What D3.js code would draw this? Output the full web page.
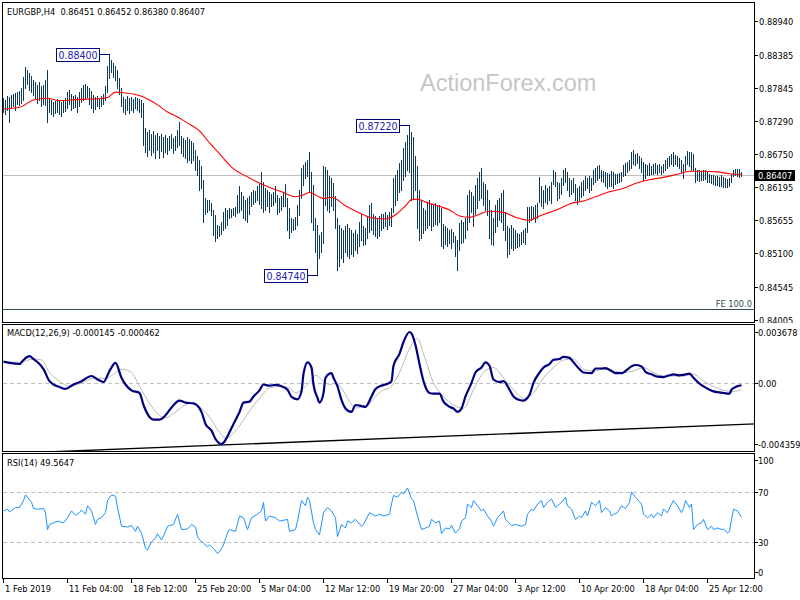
<!DOCTYPE html>
<html><head><meta charset="utf-8">
<script src="https://cdn.jsdelivr.net/npm/d3@7"></script>
<style>
body{margin:0;background:#fff}
svg{display:block}
text{font-family:"DejaVu Sans Condensed","DejaVu Sans",sans-serif;font-size:9.2px;white-space:pre}
</style>
</head><body>
<svg id="c" width="800" height="600"></svg>
<script>
// ---------------- DATA ----------------
const mainTitle = "EURGBP,H4  0.86451 0.86452 0.86380 0.86407";
const macdTitle = "MACD(12,26,9) -0.000145 -0.000462";
const rsiTitle = "RSI(14) 49.5647";
const watermark = "ActionForex.com";

const highs = [
.8767,.8764,.8771,.8769,.8772,.8774,.8776,.8777,.8779,.8784,
.8802,.8819,.8814,.8809,.8804,.8797,.8794,.8789,.8794,.8787,
.8789,.8797,.8814,.8767,.8764,.8761,.8762,.8766,.8764,.8761,
.8764,.8767,.8777,.8781,.8774,.8771,.8772,.8769,.8777,.8784,
.8789,.8790,.8787,.8784,.8779,.8772,.8769,.8771,.8767,.8771,
.8774,.8787,.8820,.8840,.8830,.8825,.8820,.8814,.8800,.8784,
.8769,.8766,.8771,.8767,.8769,.8766,.8769,.8767,.8766,.8764,
.8759,.8718,.8711,.8714,.8708,.8713,.8706,.8709,.8704,.8708,
.8703,.8706,.8701,.8704,.8708,.8701,.8704,.8714,.8727,.8704,
.8701,.8698,.8703,.8699,.8696,.8693,.8681,.8671,.8665,.8655,
.8632,.8602,.8599,.8599,.8594,.8582,.8574,.8557,.8555,.8562,
.8579,.8585,.8582,.8585,.8584,.8585,.8587,.8607,.8622,.8612,
.8605,.8599,.8602,.8605,.8612,.8615,.8613,.8622,.8625,.8645,
.8628,.8618,.8615,.8612,.8608,.8612,.8622,.8607,.8602,.8605,
.8612,.8625,.8602,.8585,.8569,.8567,.8570,.8590,.8615,.8651,
.8656,.8661,.8665,.8678,.8645,.8623,.8569,.8557,.8541,.8545,
.8655,.8653,.8648,.8638,.8635,.8627,.8605,.8569,.8557,.8552,
.8549,.8555,.8559,.8552,.8549,.8544,.8549,.8542,.8562,.8575,
.8555,.8552,.8572,.8590,.8594,.8575,.8572,.8569,.8572,.8575,
.8575,.8579,.8574,.8579,.8585,.8635,.8640,.8648,.8660,.8665,
.8685,.8694,.8706,.8722,.8711,.8703,.8671,.8655,.8615,.8599,
.8585,.8582,.8595,.8599,.8592,.8590,.8594,.8589,.8590,.8585,
.8559,.8555,.8552,.8549,.8550,.8545,.8539,.8532,.8560,.8565,
.8562,.8569,.8607,.8615,.8612,.8605,.8623,.8635,.8645,.8651,
.8628,.8625,.8615,.8599,.8582,.8569,.8590,.8599,.8602,.8610,
.8615,.8579,.8555,.8552,.8557,.8552,.8549,.8544,.8542,.8545,
.8549,.8552,.8587,.8587,.8589,.8587,.8590,.8594,.8636,.8622,
.8615,.8623,.8618,.8622,.8628,.8648,.8645,.8628,.8627,.8635,
.8648,.8651,.8645,.8635,.8632,.8635,.8625,.8618,.8622,.8628,
.8632,.8638,.8635,.8638,.8635,.8648,.8651,.8655,.8656,.8648,
.8646,.8645,.8643,.8641,.8646,.8645,.8641,.8641,.8643,.8645,
.8656,.8660,.8661,.8665,.8678,.8681,.8675,.8676,.8671,.8668,
.8661,.8658,.8656,.8660,.8655,.8658,.8660,.8656,.8658,.8655,
.8658,.8665,.8668,.8671,.8675,.8678,.8673,.8671,.8668,.8665,
.8658,.8671,.8680,.8678,.8678,.8675,.8651,.8648,.8648,.8646,
.8648,.8648,.8645,.8641,.8640,.8640,.8638,.8638,.8636,.8640,
.8636,.8635,.8633,.8635,.8641,.8648,.8650,.8650,.8650,.86452];

const lows = [
.8744,.8741,.8747,.8727,.8751,.8754,.8747,.8757,.8756,.8759,
.8764,.8784,.8790,.8781,.8777,.8772,.8767,.8759,.8764,.8754,
.8757,.8756,.8727,.8744,.8741,.8737,.8742,.8744,.8741,.8737,
.8744,.8746,.8751,.8757,.8747,.8751,.8752,.8744,.8754,.8761,
.8764,.8767,.8769,.8757,.8751,.8744,.8749,.8754,.8751,.8754,
.8757,.8764,.8777,.8800,.8810,.8802,.8797,.8784,.8774,.8754,
.8744,.8741,.8747,.8742,.8747,.8744,.8751,.8747,.8744,.8736,
.8690,.8678,.8671,.8681,.8673,.8678,.8668,.8681,.8668,.8680,
.8670,.8678,.8675,.8681,.8685,.8676,.8681,.8686,.8690,.8676,
.8671,.8668,.8661,.8665,.8660,.8665,.8648,.8640,.8615,.8618,
.8562,.8575,.8579,.8582,.8574,.8541,.8531,.8536,.8539,.8542,
.8549,.8552,.8557,.8569,.8570,.8574,.8572,.8577,.8579,.8582,
.8569,.8565,.8562,.8575,.8589,.8592,.8595,.8599,.8592,.8585,
.8579,.8582,.8589,.8579,.8589,.8590,.8595,.8575,.8579,.8582,
.8589,.8589,.8549,.8536,.8545,.8549,.8550,.8557,.8574,.8602,
.8623,.8635,.8638,.8612,.8562,.8549,.8512,.8474,.8502,.8512,
.8527,.8590,.8582,.8579,.8589,.8582,.8552,.8483,.8489,.8502,
.8496,.8512,.8506,.8502,.8509,.8506,.8516,.8511,.8522,.8532,
.8524,.8526,.8536,.8545,.8549,.8542,.8539,.8536,.8539,.8549,
.8552,.8555,.8550,.8557,.8555,.8579,.8590,.8599,.8612,.8615,
.8632,.8638,.8648,.8645,.8599,.8602,.8615,.8552,.8532,.8536,
.8544,.8549,.8552,.8557,.8549,.8555,.8559,.8557,.8562,.8522,
.8519,.8526,.8522,.8527,.8519,.8529,.8506,.8483,.8516,.8527,
.8529,.8536,.8549,.8562,.8579,.8555,.8575,.8585,.8599,.8602,
.8590,.8582,.8574,.8536,.8526,.8524,.8545,.8555,.8565,.8562,
.8549,.8532,.8504,.8509,.8519,.8516,.8519,.8521,.8522,.8526,
.8529,.8526,.8545,.8562,.8565,.8569,.8562,.8569,.8595,.8589,
.8585,.8595,.8592,.8599,.8594,.8625,.8622,.8599,.8602,.8608,
.8623,.8628,.8615,.8605,.8608,.8612,.8599,.8592,.8599,.8603,
.8607,.8615,.8618,.8612,.8615,.8625,.8628,.8632,.8635,.8630,
.8628,.8622,.8618,.8622,.8622,.8618,.8625,.8627,.8628,.8630,
.8638,.8640,.8645,.8648,.8651,.8658,.8656,.8660,.8651,.8645,
.8632,.8635,.8640,.8640,.8641,.8641,.8643,.8641,.8645,.8641,
.8645,.8648,.8651,.8655,.8658,.8655,.8658,.8655,.8651,.8645,
.8635,.8648,.8658,.8655,.8648,.8648,.8628,.8632,.8630,.8632,
.8632,.8633,.8628,.8628,.8627,.8625,.8623,.8623,.8622,.8622,
.8620,.8620,.8620,.8622,.8628,.8638,.8640,.8638,.8636,.86380];

// moving average (red), [bar index, price]
const maPoints = [[0,.8749],[8,.8752],[15,.8764],[22,.8767],[28,.8763],[38,.8765],[48,.8766],[52,.8768],[56,.8777],[60,.8776],
[66,.8773],[70,.8769],[73,.8764],[77,.8756],[82,.8744],[87,.8736],[93,.8724],[98,.8713],[103,.8693],[108,.8675],
[114,.8653],[123,.8635],[131,.8622],[139,.8612],[146,.8604],[150,.8607],[153,.8611],[157,.8605],[160,.8601],[164,.8603],
[171,.8589],[178,.8577],[184,.8569],[191,.8567],[196,.8574],[201,.8589],[204,.8599],[207,.8600],[211,.8595],[218,.8588],
[223,.8582],[228,.8572],[233,.8570],[243,.8580],[250,.8578],[256,.8570],[263,.8565],[268,.8572],[273,.8578],[278,.8584],
[283,.8592],[290,.8597],[296,.8604],[303,.8612],[310,.8618],[317,.8627],[323,.8632],[330,.8636],[337,.8641],[343,.8646],
[350,.8646],[357,.8645],[363,.8642],[369,.8641]];

// MACD main line, [bar index, value]
const macdPoints = [[0,0.00155],[3,0.00146],[8,0.00138],[10,0.00167],[13,0.00194],[15,0.00174],[18,0.00138],[20,0.00101],[23,0.00015],[25,-0.00009],
[28,-0.00027],[31,-0.00041],[35,-0.00009],[39,0.00015],[44,0.00052],[47,0.00027],[50,0.00009],[53,0.00088],[56,0.00146],[59,0.00039],
[61,-0.00009],[64,-0.00051],[68,-0.00070],[70,-0.00156],[73,-0.00242],[75,-0.00261],[78,-0.00261],[81,-0.00230],[84,-0.00174],[88,-0.00124],
[91,-0.00139],[95,-0.00144],[99,-0.00206],[101,-0.00292],[104,-0.00340],[106,-0.00400],[109,-0.004359],[110,-0.00426],[113,-0.00352],[115,-0.00292],
[118,-0.00206],[120,-0.00139],[123,-0.00132],[125,-0.00095],[128,-0.00051],[130,-0.00009],[133,-0.00017],[136,-0.00012],[139,-0.00022],[142,-0.00046],
[144,-0.00098],[147,-0.00115],[149,-0.00058],[150,0.00067],[152,0.00150],[154,0.00113],[155,-0.00009],[157,-0.00105],[158,-0.00139],[160,-0.00070],
[161,0.00039],[164,0.00072],[165,0.00039],[167,-0.00022],[169,-0.00120],[171,-0.00181],[174,-0.00206],[176,-0.00156],[179,-0.00163],[181,-0.00169],
[184,-0.00095],[186,-0.00041],[189,-0.00017],[191,-0.00009],[194,0.00015],[195,0.00126],[198,0.00211],[200,0.00296],[203,0.003678],[204,0.00358],
[206,0.00273],[208,0.00138],[210,0.00015],[213,-0.00070],[215,-0.00075],[218,-0.00075],[220,-0.00132],[223,-0.00169],[225,-0.00181],[227,-0.00206],
[229,-0.00181],[231,-0.00095],[234,0.00003],[236,0.00077],[239,0.00113],[241,0.00150],[243,0.00126],[245,0.00027],[248,0.00008],[250,0.00015],
[253,-0.00046],[255,-0.00095],[258,-0.00120],[260,-0.00124],[263,-0.00083],[265,0.00003],[268,0.00077],[270,0.00113],[273,0.00138],[275,0.00169],
[278,0.00174],[280,0.00190],[283,0.00182],[285,0.00150],[288,0.00101],[290,0.00077],[294,0.00072],[296,0.00106],[299,0.00106],[301,0.00108],
[304,0.00088],[306,0.00072],[309,0.00072],[311,0.00088],[314,0.00121],[316,0.00131],[319,0.00121],[321,0.00082],[324,0.00064],[327,0.00047],
[330,0.00044],[333,0.00057],[335,0.00064],[338,0.00057],[340,0.00060],[343,0.00069],[345,0.00039],[348,-0.00002],[350,-0.00022],[353,-0.00046],
[355,-0.00058],[358,-0.00065],[360,-0.00070],[363,-0.00075],[364,-0.00046],[366,-0.00027],[369,-0.000145]];

// MACD signal line, [bar index, value]
const signalPoints = [[0,0.00155],[8,0.00150],[15,0.00174],[19,0.00167],[23,0.00077],[28,0.00015],[33,-0.00022],[39,0.00002],[46,0.00038],[51,0.00034],
[55,0.00064],[59,0.00101],[64,0.00077],[68,-0.00022],[73,-0.00144],[78,-0.00230],[81,-0.00249],[86,-0.00206],[91,-0.00156],[95,-0.00144],
[98,-0.00169],[103,-0.00242],[108,-0.00352],[111,-0.00393],[114,-0.00371],[118,-0.00306],[123,-0.00199],[128,-0.00107],[133,-0.00034],[138,-0.00022],
[143,-0.00034],[146,-0.00070],[149,-0.00046],[153,0.00003],[156,0.00057],[160,0.00015],[163,-0.00009],[166,0.00002],[169,-0.00034],[173,-0.00132],
[176,-0.00177],[181,-0.00169],[186,-0.00095],[190,-0.00048],[193,-0.00034],[198,0.00077],[203,0.00248],[207,0.00321],[210,0.00211],[215,0.00003],
[220,-0.00095],[225,-0.00156],[230,-0.00181],[235,-0.00046],[240,0.00077],[245,0.00113],[250,0.00039],[255,-0.00046],[260,-0.00107],[265,-0.00070],
[270,0.00039],[275,0.00113],[280,0.00167],[285,0.00174],[290,0.00101],[295,0.00088],[300,0.00101],[305,0.00088],[310,0.00077],[315,0.00088],
[320,0.00113],[325,0.00077],[330,0.00052],[335,0.00052],[340,0.00052],[345,0.00064],[350,0.00015],[355,-0.00022],[360,-0.00051],[365,-0.00058],
[369,-0.000462]];

// trend line drawn in the MACD window, [bar index, value]
const trendPoints = [[109,-0.004435],[369,-0.002957]];

// RSI(14), [bar index, value]
const rsiPoints = [[0,54.7],[2,56.1],[3,53.9],[6,57.4],[8,57.4],[10,63.0],[11,67.6],[12,65.7],[14,61.6],[15,56.6],
[17,56.1],[20,56.6],[21,53.3],[22,39.7],[23,43.8],[25,45.1],[27,46.5],[30,45.1],[32,49.2],[34,54.7],
[36,51.2],[38,53.3],[39,55.5],[41,52.0],[42,58.8],[44,54.7],[46,43.8],[47,47.9],[49,49.2],[51,53.3],
[52,63.0],[54,67.6],[56,66.5],[57,57.4],[59,42.4],[62,41.8],[64,43.0],[66,38.2],[67,42.4],[69,36.9],
[71,24.6],[72,23.2],[74,30.0],[76,32.8],[77,36.4],[79,31.4],[81,38.2],[82,42.4],[85,43.8],[87,52.0],
[89,39.7],[92,40.2],[94,43.8],[96,41.8],[97,34.1],[98,31.4],[100,28.7],[102,25.9],[103,27.3],[105,24.6],
[107,20.5],[108,21.8],[110,27.3],[112,36.9],[113,39.7],[116,38.2],[118,50.6],[120,49.2],[122,39.7],[124,49.2],
[127,52.0],[129,54.7],[130,61.6],[131,46.5],[133,50.6],[136,49.2],[138,46.5],[142,47.9],[143,38.2],[146,39.7],
[147,46.5],[149,63.0],[151,58.8],[152,65.7],[153,63.0],[155,45.1],[156,39.7],[158,35.5],[160,53.3],[162,57.4],
[164,54.7],[166,49.2],[167,34.1],[169,43.8],[171,41.0],[172,46.5],[174,45.1],[176,47.9],[179,42.4],[180,43.8],
[183,53.3],[186,50.6],[188,52.0],[190,50.6],[193,52.0],[194,60.2],[195,67.1],[197,65.7],[199,69.8],[200,68.4],
[202,73.1],[204,64.3],[205,63.0],[207,50.6],[209,39.7],[211,41.0],[213,42.4],[214,47.9],[216,45.1],[218,46.5],
[219,36.4],[221,41.0],[223,40.2],[224,43.0],[226,36.9],[228,40.2],[229,46.5],[231,49.2],[232,60.2],[234,57.4],
[235,63.0],[237,58.8],[239,54.7],[240,56.1],[242,50.6],[244,46.5],[245,42.4],[247,49.2],[250,54.7],[251,47.9],
[254,43.0],[256,43.8],[259,42.4],[261,43.8],[262,52.0],[264,56.1],[265,54.7],[267,60.2],[269,63.0],[270,57.4],
[272,61.6],[274,64.3],[276,57.4],[279,61.6],[281,65.7],[282,58.8],[284,56.1],[286,47.9],[288,50.6],[289,49.2],
[291,54.7],[292,50.6],[294,61.6],[296,58.8],[298,63.0],[299,53.3],[301,57.4],[303,54.7],[304,50.6],[305,52.0],
[307,53.3],[309,58.8],[311,56.6],[313,61.6],[314,69.8],[316,65.7],[319,60.2],[320,52.0],[322,49.2],[324,52.0],
[325,49.2],[327,53.3],[329,50.6],[330,56.1],[332,53.3],[334,60.2],[335,63.0],[337,58.8],[339,53.3],[340,56.6],
[341,63.0],[343,57.4],[344,60.2],[345,39.7],[347,43.8],[349,45.1],[350,47.9],[352,39.7],[354,42.4],[355,39.7],
[357,41.0],[359,39.7],[360,40.2],[362,36.9],[363,38.2],[364,47.9],[365,56.1],[367,54.7],[369,49.6]];

const priceTicks = [0.88940,0.88385,0.87845,0.87290,0.86750,0.86195,0.85655,0.85100,0.84545,0.84005];
const macdTicks = [0.003678,0,-0.004359];
const macdTickLabels = ["0.003678","0.00","-0.004359"];
const rsiTicks = [100,70,30,0];
const rsiLevels = [70,30];
const timeTickBars = [0,32,64,96,128,160,192,224,256,288,320,352];
const timeTickLabels = ["1 Feb 2019","11 Feb 04:00","18 Feb 12:00","25 Feb 20:00","5 Mar 04:00","12 Mar 12:00",
  "19 Mar 20:00","27 Mar 04:00","3 Apr 12:00","10 Apr 20:00","18 Apr 04:00","25 Apr 12:00"];
const annotations = [{bar:53,price:0.88400,text:"0.88400"},{bar:203,price:0.87220,text:"0.87220"},{bar:157,price:0.84740,text:"0.84740"}];
const lastPrice = 0.86407;
const feLevel = 0.84181;
const feLabel = "FE 100.0";

// ---------------- CHART ----------------
const svg = d3.select("#c");
const L = 2.5, R = 754.5;
const panels = [{top:2.5,bottom:322.5},{top:324.5,bottom:451.5},{top:453.5,bottom:578.5}];

const xS = d3.scaleLinear().domain([0, highs.length-1]).range([3, 741]);
const px = i => Math.round(xS(i)) + 0.5;
const yP = d3.scaleLinear().domain([0.84545,0.88385]).range([287,55]);
const yM = d3.scaleLinear().domain([-0.004359,0.003678]).range([444,332]);
const yR = d3.scaleLinear().domain([0,100]).range([579,454.5]);

const defs = svg.append("defs");
panels.forEach((p,k)=>{
  defs.append("clipPath").attr("id","clip"+k).append("rect")
    .attr("x",L).attr("y",p.top).attr("width",R-L).attr("height",p.bottom-p.top);
});

// watermark
svg.append("text").attr("x",420).attr("y",91).text(watermark)
  .style("font-family","'Liberation Sans',Arial,sans-serif").style("font-size","23.5px").attr("fill","#c6c6c6");

// ----- main panel -----
const gMain = svg.append("g").attr("clip-path","url(#clip0)");
const yLast = Math.round(yP(lastPrice))+0.5;
gMain.append("line").attr("x1",L).attr("x2",R).attr("y1",yLast).attr("y2",yLast)
  .attr("stroke","#c0c0c0").attr("shape-rendering","crispEdges");
const yFe = Math.round(yP(feLevel))+0.5;
gMain.append("line").attr("x1",L).attr("x2",R).attr("y1",yFe).attr("y2",yFe)
  .attr("stroke","#2f4f4f").attr("shape-rendering","crispEdges");
gMain.append("text").attr("x",752).attr("y",yFe-3).attr("text-anchor","end").attr("fill","#2f4f4f").text(feLabel);

gMain.append("g").selectAll("line").data(highs).join("line")
  .attr("x1",(d,i)=>px(i)).attr("x2",(d,i)=>px(i))
  .attr("y1",d=>Math.round(yP(d)))
  .attr("y2",(d,i)=>Math.round(yP(lows[i]))+1)
  .attr("stroke","#0e3a5a").attr("stroke-width",1).attr("shape-rendering","crispEdges");

gMain.append("path").datum(maPoints)
  .attr("d",d3.line().x(d=>xS(d[0])+0.5).y(d=>yP(d[1])).curve(d3.curveMonotoneX))
  .attr("fill","none").attr("stroke","#ff0000").attr("stroke-width",1.1);

annotations.forEach(a=>{
  const bx = px(a.bar), by = Math.round(yP(a.price))+0.5;
  const bw = 43, bh = 13, gap = 10;
  gMain.append("line").attr("x1",bx-gap).attr("x2",bx).attr("y1",by).attr("y2",by)
    .attr("stroke","#000080").attr("shape-rendering","crispEdges");
  gMain.append("rect").attr("x",bx-gap-bw).attr("y",by-6.5).attr("width",bw).attr("height",bh)
    .attr("fill","#fff").attr("stroke","#000080").attr("shape-rendering","crispEdges");
  gMain.append("text").attr("x",bx-gap-bw/2).attr("y",by+4).attr("text-anchor","middle")
    .style("font-size","10.5px").attr("fill","#2424a6").text(a.text);
});

svg.append("text").attr("x",7).attr("y",15).attr("fill","#000").text(mainTitle);

// ----- MACD panel -----
const gM = svg.append("g").attr("clip-path","url(#clip1)");
const trendSlope = (trendPoints[1][1]-trendPoints[0][1])/(trendPoints[1][0]-trendPoints[0][0]);
const trendAt = i => trendPoints[0][1] + (i-trendPoints[0][0])*trendSlope;
gM.append("line").attr("x1",xS(-2)).attr("x2",xS(377))
  .attr("y1",yM(trendAt(-2))).attr("y2",yM(trendAt(377)))
  .attr("stroke","#000").attr("stroke-width",1.4);
const y0 = Math.round(yM(0))+0.5;
gM.append("line").attr("x1",L).attr("x2",R).attr("y1",y0).attr("y2",y0)
  .attr("stroke","#c0c0c0").attr("stroke-dasharray","4,3").attr("shape-rendering","crispEdges");
const lineM = d3.line().x(d=>xS(d[0])+0.5).y(d=>yM(d[1])).curve(d3.curveMonotoneX);
gM.append("path").datum(signalPoints).attr("d",lineM)
  .attr("fill","none").attr("stroke","#b8b8b8").attr("stroke-width",1);
gM.append("path").datum(macdPoints).attr("d",lineM)
  .attr("fill","none").attr("stroke","#000080").attr("stroke-width",2.2);
svg.append("text").attr("x",7).attr("y",336).attr("fill","#000").text(macdTitle);

// ----- RSI panel -----
const gR = svg.append("g").attr("clip-path","url(#clip2)");
rsiLevels.forEach(v=>{
  const yy = Math.round(yR(v))+0.5;
  gR.append("line").attr("x1",L).attr("x2",R).attr("y1",yy).attr("y2",yy)
    .attr("stroke","#c0c0c0").attr("stroke-dasharray","4,3").attr("shape-rendering","crispEdges");
});
gR.append("path").datum(rsiPoints)
  .attr("d",d3.line().x(d=>xS(d[0])+0.5).y(d=>yR(d[1])))
  .attr("fill","none").attr("stroke","#1e90ff").attr("stroke-width",1);
svg.append("text").attr("x",7).attr("y",466).attr("fill","#000").text(rsiTitle);

// ----- frames -----
panels.forEach(p=>{
  svg.append("rect").attr("x",L).attr("y",p.top).attr("width",R-L).attr("height",p.bottom-p.top)
    .attr("fill","none").attr("stroke","#000").attr("shape-rendering","crispEdges");
});

// ----- right axes -----
const gAx = svg.append("g");
defs.append("clipPath").attr("id","clipPx").append("rect")
  .attr("x",754).attr("y",0).attr("width",46).attr("height",323);
const gPx = gAx.append("g").attr("clip-path","url(#clipPx)");
priceTicks.forEach(v=>{
  const yy = Math.round(yP(v))+0.5;
  gPx.append("line").attr("x1",R).attr("x2",R+3).attr("y1",yy).attr("y2",yy).attr("stroke","#000").attr("shape-rendering","crispEdges");
  gPx.append("text").attr("x",759).attr("y",yy+3.5).attr("fill","#000").text(d3.format(".5f")(v));
});
gAx.append("rect").attr("x",755).attr("y",yLast-5.5).attr("width",40).attr("height",11).attr("fill","#000");
gAx.append("text").attr("x",758).attr("y",yLast+3.5).attr("fill","#fff").text(d3.format(".5f")(lastPrice));

macdTicks.forEach((v,k)=>{
  const yy = Math.round(yM(v))+0.5;
  gAx.append("line").attr("x1",R).attr("x2",R+3).attr("y1",yy).attr("y2",yy).attr("stroke","#000").attr("shape-rendering","crispEdges");
  gAx.append("text").attr("x",758).attr("y",yy+3.5).attr("fill","#000").text(macdTickLabels[k]);
});
rsiTicks.forEach(v=>{
  const raw = yR(v);
  const yy = Math.round(Math.min(Math.max(raw, panels[2].top+6), panels[2].bottom-7))+0.5;
  gAx.append("line").attr("x1",R).attr("x2",R+3).attr("y1",yy).attr("y2",yy).attr("stroke","#000").attr("shape-rendering","crispEdges");
  gAx.append("text").attr("x",758).attr("y",yy+3.5).attr("fill","#000").text(String(v));
});

// ----- time axis -----
timeTickBars.forEach((b,k)=>{
  const xx = px(b);
  gAx.append("line").attr("x1",xx).attr("x2",xx).attr("y1",578.5).attr("y2",583).attr("stroke","#000").attr("shape-rendering","crispEdges");
  gAx.append("text").attr("x",xx+1.5).attr("y",592).attr("fill","#000").text(timeTickLabels[k]);
});
</script>
</body></html>
